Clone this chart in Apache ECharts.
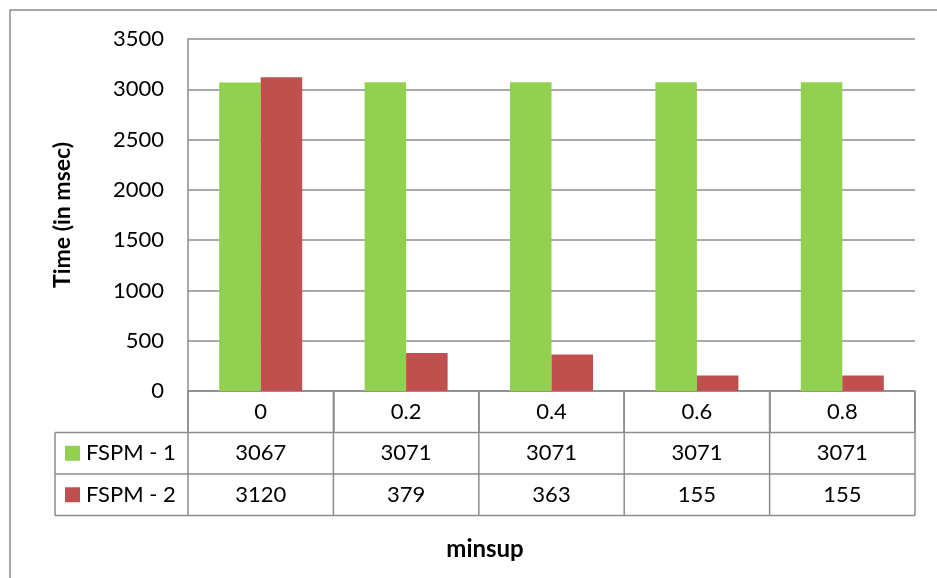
<!DOCTYPE html>
<html>
<head>
<meta charset="utf-8">
<script src="https://cdn.jsdelivr.net/npm/echarts@6/dist/echarts.min.js"></script>
<style>
  html, body { margin: 0; padding: 0; background: #fff; }
  #chart { width: 937px; height: 578px; }
</style>
</head>
<body>
<div id="chart"></div>
<script>
// Run times of the two FSPM variants for each minimum support value
const categories = ['0', '0.2', '0.4', '0.6', '0.8'];
const seriesNames = ['FSPM - 1', 'FSPM - 2'];
const fspm1 = [3067, 3071, 3071, 3071, 3071];
const fspm2 = [3120, 379, 363, 155, 155];
const seriesColors = ['#92D050', '#C0504D'];

const FONT = 'Lato';
const FS = 22;
const LINE = '#8c8c8c';

const chart = echarts.init(document.getElementById('chart'), null, { renderer: 'canvas' });

const option = {
  animation: false,
  backgroundColor: '#fff',
  grid: { left: 188, top: 39, right: 22, bottom: 187, containLabel: false },
  xAxis: {
    type: 'category',
    data: categories,
    axisLine: { show: true, lineStyle: { color: LINE, width: 1.5 } },
    axisTick: { show: true, length: 41, lineStyle: { color: LINE, width: 1.5 } },
    axisLabel: { margin: 10, color: '#000', fontFamily: FONT, fontSize: FS }
  },
  yAxis: {
    type: 'value',
    min: 0,
    max: 3500,
    interval: 500,
    name: 'Time (in msec)',
    nameLocation: 'middle',
    nameGap: 114,
    nameTextStyle: { color: '#000', fontFamily: FONT, fontSize: 23, fontWeight: 'bold' },
    axisLine: { show: true, lineStyle: { color: LINE, width: 1.5 } },
    axisTick: { show: false },
    axisLabel: { margin: 24, color: '#000', fontFamily: FONT, fontSize: FS,
      formatter: (v) => String(v) },
    splitLine: { show: true, lineStyle: { color: LINE, width: 1.5 } }
  },
  series: [
    { name: seriesNames[0], type: 'bar', data: fspm1, barGap: '0%', barCategoryGap: '42.9%',
      itemStyle: { color: seriesColors[0] } },
    { name: seriesNames[1], type: 'bar', data: fspm2, barGap: '0%', barCategoryGap: '42.9%',
      itemStyle: { color: seriesColors[1] } }
  ]
};
chart.setOption(option);

// Data table under the plot, laid out from the axis scale
function buildTable() {
  const c0 = chart.convertToPixel({ xAxisIndex: 0 }, 0);
  const c1 = chart.convertToPixel({ xAxisIndex: 0 }, 1);
  const half = (c1 - c0) / 2;
  const yZero = chart.convertToPixel({ yAxisIndex: 0 }, 0);
  const rowH = 41.5;
  const tableLeft = 55;
  const plotLeft = c0 - half;
  const plotRight = chart.convertToPixel({ xAxisIndex: 0 }, categories.length - 1) + half;
  const rows = [fspm1, fspm2];
  const els = [];
  const line = (x1, y1, x2, y2) => ({
    type: 'line', silent: true,
    shape: { x1, y1, x2, y2 },
    style: { stroke: LINE, lineWidth: 1.5 }
  });

  // outer chart border
  els.push({ type: 'rect', silent: true, shape: { x: 10, y: 10, width: 960, height: 600 },
    style: { fill: null, stroke: '#8c8c8c', lineWidth: 1.5 } });

  const top1 = yZero + rowH;
  const bottom = yZero + rowH * 3;
  // horizontal rules
  for (let r = 0; r <= rows.length; r++) {
    els.push(line(tableLeft, top1 + r * rowH, plotRight, top1 + r * rowH));
  }
  // vertical rules
  els.push(line(tableLeft, top1, tableLeft, bottom));
  for (let i = 0; i <= categories.length; i++) {
    const x = plotLeft + i * 2 * half;
    els.push(line(x, yZero, x, bottom));
  }
  // row headers with legend keys and the values
  rows.forEach((vals, r) => {
    const yMid = top1 + r * rowH + rowH / 2;
    els.push({ type: 'rect', silent: true,
      shape: { x: 65, y: yMid - 7.5, width: 15, height: 15 },
      style: { fill: seriesColors[r] } });
    els.push({ type: 'text', silent: true, x: 86, y: yMid,
      style: { text: seriesNames[r], fill: '#000', font: `${FS}px ${FONT}`,
        textAlign: 'left', textVerticalAlign: 'middle' } });
    vals.forEach((v, i) => {
      els.push({ type: 'text', silent: true,
        x: chart.convertToPixel({ xAxisIndex: 0 }, i), y: yMid,
        style: { text: String(v), fill: '#000', font: `${FS}px ${FONT}`,
          textAlign: 'center', textVerticalAlign: 'middle' } });
    });
  });
  // x axis title, centred under the whole table
  els.push({ type: 'text', silent: true, x: (tableLeft + plotRight) / 2, y: 549,
    style: { text: 'minsup', fill: '#000', font: `bold 24px ${FONT}`,
      textAlign: 'center', textVerticalAlign: 'middle' } });

  chart.setOption({ graphic: { elements: els } });
}
buildTable();
</script>
</body>
</html>
